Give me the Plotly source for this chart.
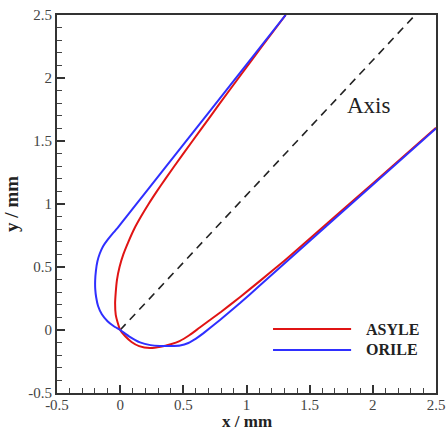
import plotly.graph_objects as go

# ASYLE (red) contour, x / y in mm
asyle_x = [1.31, 1.122, 0.937, 0.79, 0.645, 0.5, 0.358, 0.29, 0.225, 0.165, 0.11, 0.065, 0.025,
           -0.005, -0.025, -0.035, -0.04, -0.035, -0.02, 0.0, 0.04, 0.09, 0.15, 0.236, 0.32,
           0.4, 0.47, 0.55, 0.63, 0.8, 0.95, 1.107, 1.3, 1.45, 2.0, 2.5]
asyle_y = [2.5, 2.25, 2.0, 1.8, 1.6, 1.4, 1.2, 1.1, 1.0, 0.9, 0.8, 0.7, 0.6,
           0.5, 0.4, 0.3, 0.21, 0.12, 0.06, 0.0, -0.05, -0.095, -0.128, -0.143, -0.133,
           -0.113, -0.088, -0.04, 0.02, 0.145, 0.262, 0.39, 0.55, 0.68, 1.163, 1.605]

# ORILE (blue) contour
orile_x = [1.31, 0.9, 0.5, 0.236, 0.05, -0.02, -0.06, -0.1, -0.135, -0.162, -0.18, -0.192,
           -0.198, -0.197, -0.19, -0.175, -0.145, -0.1, -0.05, 0.0, 0.07, 0.157, 0.24, 0.315,
           0.4, 0.474, 0.54, 0.6, 0.66, 0.79, 0.949, 1.107, 1.42, 2.0, 2.5]
orile_y = [2.5, 1.979, 1.471, 1.136, 0.90, 0.81, 0.765, 0.715, 0.665, 0.605, 0.545, 0.47,
           0.39, 0.32, 0.26, 0.19, 0.125, 0.07, 0.03, 0.0, -0.05, -0.098, -0.12, -0.127,
           -0.127, -0.123, -0.103, -0.068, -0.025, 0.08, 0.214, 0.355, 0.635, 1.153, 1.6]

# symmetry axis
axis_x = [0.0, 2.335]
axis_y = [0.0, 2.5]

tick_vals = [-0.5, 0, 0.5, 1, 1.5, 2, 2.5]
tick_text = ["-0.5", "0", "0.5", "1", "1.5", "2", "2.5"]

legend_names = ["ASYLE", "ORILE"]
colors = ["#e01414", "#2f2fff"]

serif = "Liberation Serif, Times New Roman, serif"

fig = go.Figure()
fig.add_trace(go.Scatter(x=axis_x, y=axis_y, mode="lines",
                         line=dict(color="#222222", width=1.6, dash="8px,6px"),
                         showlegend=False, hoverinfo="skip"))
fig.add_trace(go.Scatter(x=asyle_x, y=asyle_y, mode="lines", name=legend_names[0],
                         line=dict(color=colors[0], width=2, shape="spline", smoothing=0.5),
                         showlegend=False))
fig.add_trace(go.Scatter(x=orile_x, y=orile_y, mode="lines", name=legend_names[1],
                         line=dict(color=colors[1], width=2, shape="spline", smoothing=0.3),
                         showlegend=False))

# manual legend
leg_y = [0.169, 0.114]
for i, name in enumerate(legend_names):
    fig.add_shape(type="line", xref="paper", yref="paper", x0=0.570, x1=0.776,
                  y0=leg_y[i], y1=leg_y[i], line=dict(color=colors[i], width=2))
    fig.add_annotation(xref="paper", yref="paper", x=0.810, y=leg_y[i], text="<b>%s</b>" % name,
                       showarrow=False, xanchor="left", yanchor="middle",
                       font=dict(family=serif, size=16, color="#222222"))

fig.add_annotation(x=1.97, y=1.78, text="Axis", showarrow=False,
                   font=dict(family=serif, size=23, color="#222222"))

# axis titles
fig.add_annotation(xref="paper", yref="paper", x=0.5, y=-0.104, text="<b>x / mm</b>",
                   showarrow=False, xanchor="center", yanchor="bottom", borderpad=0,
                   font=dict(family=serif, size=17, color="#222222"))
fig.add_annotation(xref="paper", yref="paper", x=-0.152, y=0.5, text="<b>y / mm</b>",
                   showarrow=False, xanchor="left", yanchor="middle", textangle=-90,
                   borderpad=0, font=dict(family=serif, size=19, color="#222222"))

axis_common = dict(range=[-0.5, 2.5], tickvals=tick_vals, ticktext=tick_text,
                   showline=True, linecolor="#333333", linewidth=2, mirror=True,
                   ticks="inside", ticklen=8, tickwidth=2, tickcolor="#333333",
                   showgrid=False, zeroline=False, automargin=False,
                   tickfont=dict(family=serif, size=15, color="#444444"),
                   minor=dict(ticks="inside", ticklen=5, tickwidth=1, tickcolor="#444444",
                              dtick=0.1, showgrid=False))

fig.update_xaxes(**axis_common, ticklabelstandoff=-3)
fig.update_yaxes(**axis_common)

fig.update_layout(width=447, height=432, margin=dict(l=57, r=11, t=15, b=39),
                  plot_bgcolor="white", paper_bgcolor="white", showlegend=False)

fig.write_html("out.html")
